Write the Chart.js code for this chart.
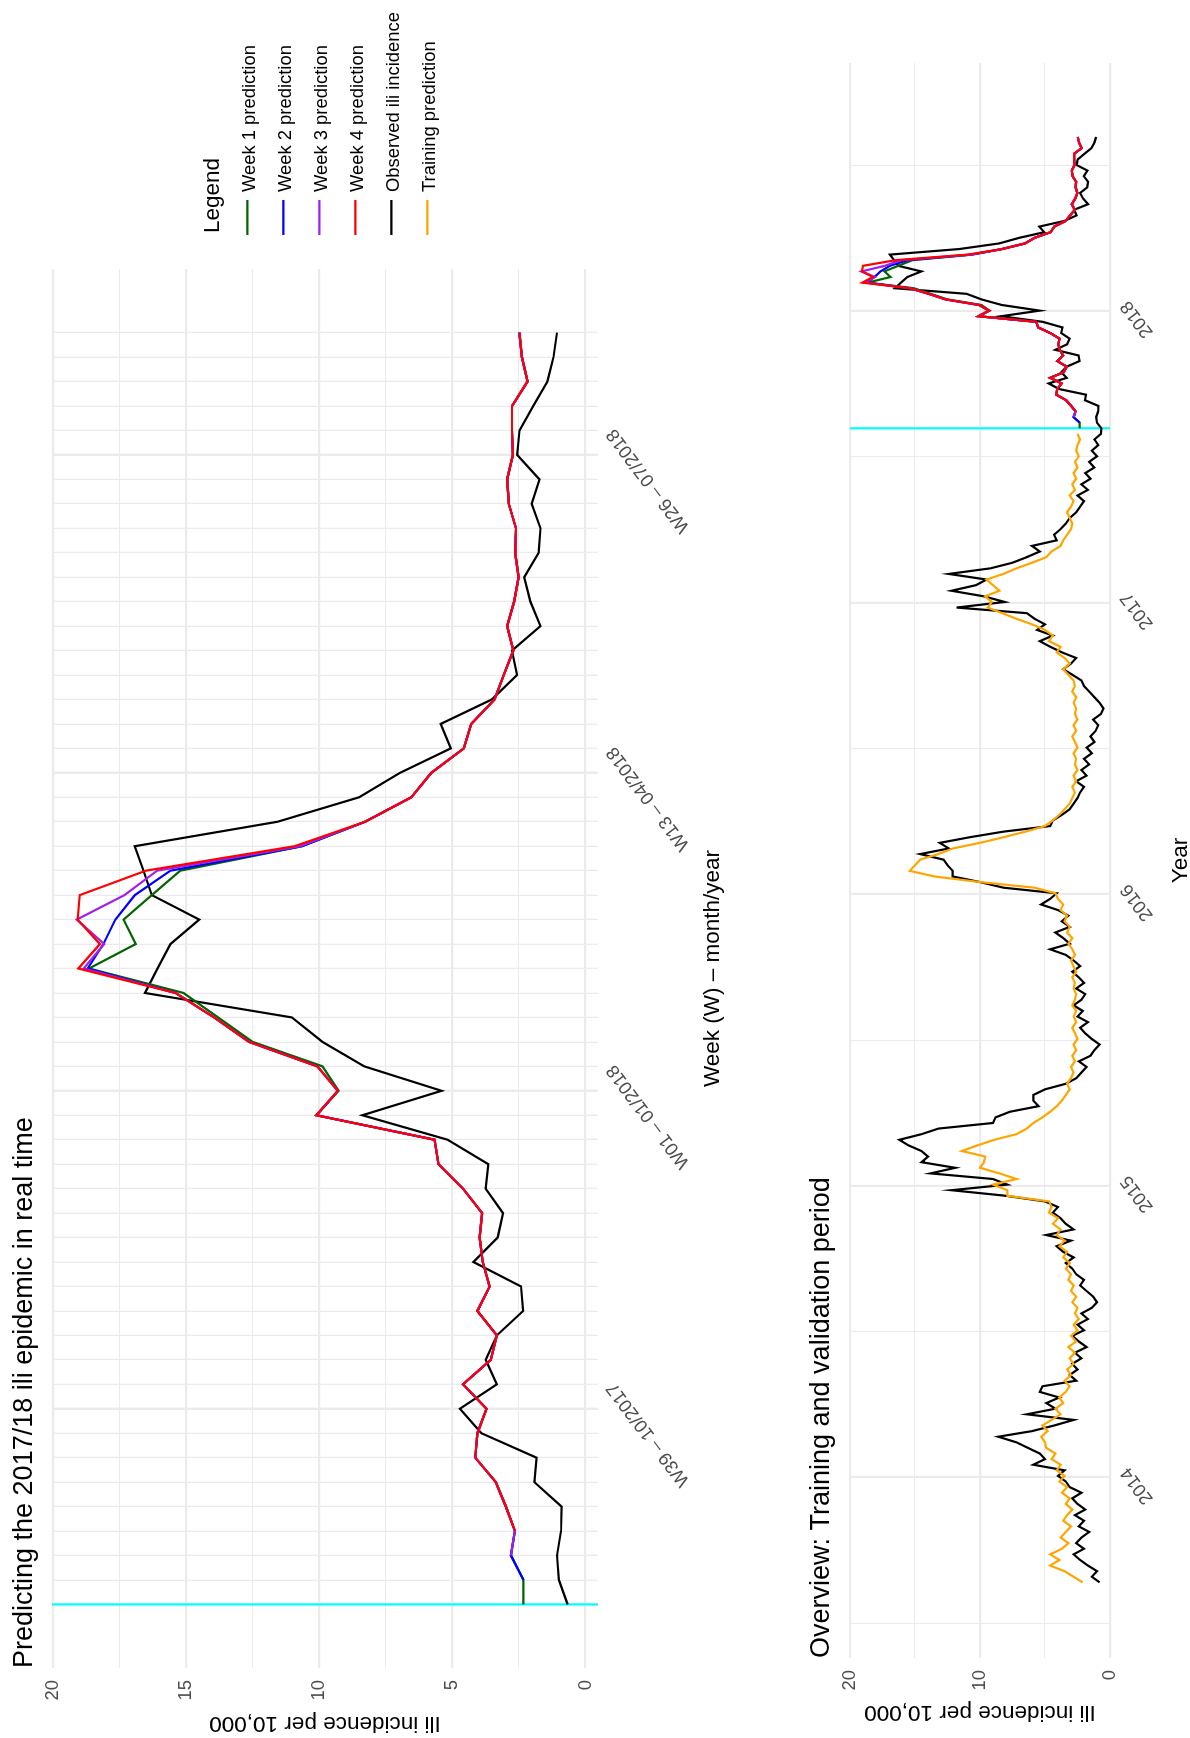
<!DOCTYPE html>
<html>
<head>
<meta charset="utf-8">
<script src="https://cdn.jsdelivr.net/npm/chart.js@4.4.1/dist/chart.umd.min.js"></script>
<style>
  html, body { margin: 0; padding: 0; background: #fff; overflow: hidden; width: 1190px; height: 1738px; }
  /* the figure is laid out landscape (1738 x 1190) and turned a quarter left */
  #page { position: absolute; left: 0; top: 0; width: 1738px; height: 1190px; background: #fff;
          transform-origin: 0 0; transform: translateY(1738px) rotate(-90deg); }
  canvas { position: absolute; left: 0; }
</style>
</head>
<body>
<div id="page">
  <canvas id="chartSeason" width="1738" height="740" style="top:0;width:1738px;height:740px"></canvas>
  <canvas id="chartOverview" width="1738" height="450" style="top:740px;width:1738px;height:450px"></canvas>
</div>
<script>
// ---- 2017/18 season, weekly (index 0 = W31/2017 ... 52 = W31/2018)
const observed1718 = [0.67, 1.0, 1.07, 0.92, 0.90, 1.92, 1.84, 3.91, 4.72, 3.33, 3.75, 3.33, 2.34, 2.42, 4.21,
  3.30, 3.10, 3.75, 3.65, 5.18, 8.38, 5.41, 8.31, 9.88, 11.03, 16.55, 16.08, 15.59, 14.51, 16.29, 16.6,
  16.93, 11.57, 8.51, 6.97, 5.06, 5.44, 3.52, 2.57, 2.76, 1.69, 2.07, 2.30, 1.76, 1.69, 2.02, 1.73,
  2.57, 2.48, 1.96, 1.43, 1.20, 1.07];
const week1Pred = [2.33, 2.33, 2.80, 2.65, 2.99, 3.37, 4.14, 4.06, 3.72, 4.60, 3.56, 3.33, 4.06, 3.60, 3.86,
  3.98, 3.88, 4.60, 5.52, 5.67, 10.11, 9.27, 9.88, 12.5, 13.8, 15.1, 18.65, 16.89, 17.35, 16.29, 15.22,
  10.65, 8.28, 6.54, 5.79, 4.57, 4.29, 3.42, 3.07, 2.71, 2.94, 2.68, 2.51, 2.64, 2.61, 2.88, 2.94,
  2.73, 2.76, 2.76, 2.18, 2.39, 2.48];
const week2Pred = [null, 2.33, 2.80, 2.65, 2.99, 3.37, 4.14, 4.06, 3.72, 4.60, 3.56, 3.33, 4.06, 3.60, 3.86,
  3.98, 3.88, 4.60, 5.52, 5.67, 10.11, 9.30, 10.07, 12.64, 13.95, 15.4, 18.70, 18.11, 17.66, 16.93, 15.59,
  10.65, 8.28, 6.54, 5.79, 4.57, 4.29, 3.42, 3.07, 2.71, 2.94, 2.68, 2.51, 2.64, 2.61, 2.88, 2.94,
  2.73, 2.76, 2.76, 2.18, 2.39, 2.48];
const week3Pred = [null, null, 2.80, 2.65, 2.99, 3.37, 4.14, 4.06, 3.72, 4.60, 3.56, 3.33, 4.06, 3.60, 3.86,
  3.98, 3.88, 4.60, 5.52, 5.67, 10.11, 9.30, 10.07, 12.64, 13.95, 15.4, 18.85, 18.08, 19.11, 17.32, 16.09,
  10.73, 8.28, 6.54, 5.79, 4.57, 4.29, 3.42, 3.07, 2.71, 2.94, 2.68, 2.51, 2.64, 2.61, 2.88, 2.94,
  2.73, 2.76, 2.76, 2.18, 2.39, 2.48];
const week4Pred = [null, null, null, 2.65, 2.99, 3.37, 4.14, 4.06, 3.72, 4.60, 3.56, 3.33, 4.06, 3.60, 3.86,
  3.98, 3.88, 4.60, 5.52, 5.67, 10.11, 9.30, 10.07, 12.64, 13.95, 15.4, 19.05, 18.24, 19.08, 19.0, 16.51,
  10.93, 8.28, 6.54, 5.79, 4.57, 4.29, 3.42, 3.07, 2.71, 2.94, 2.68, 2.51, 2.64, 2.61, 2.88, 2.94,
  2.73, 2.76, 2.76, 2.18, 2.39, 2.48];
const seasonTickWeeks = [8, 21, 34, 47];
const seasonTickLabels = ['W39 – 10/2017', 'W01 – 01/2018', 'W13 – 04/2018', 'W26 – 07/2018'];

// ---- training period, weekly (index 0 = Aug 2013 ... 205 = Jul 2017)
const observedTrain = [
  0.8, 1.4, 1.0, 1.7, 2.3, 2.8, 2.0, 2.6, 2.2, 1.6, 2.4, 2.0, 2.7, 1.9, 2.5, 2.9, 2.2, 3.1, 3.4,
  4.0, 3.5, 5.9, 5.0, 5.4, 6.3, 7.2, 8.6, 6.0, 4.3, 2.8, 6.4, 4.2, 4.9, 3.9, 5.4, 5.2, 2.6, 3.1,
  2.5, 2.9, 2.2, 2.7, 1.8, 2.4, 2.9, 2.0, 2.5, 1.7, 2.2, 1.4, 1.0, 1.3, 1.8, 2.3, 2.0, 2.6,
  2.9, 3.4, 2.8, 3.6, 4.1, 3.0, 4.9, 2.8, 3.4, 3.8, 4.4,
  4.0, 5.0, 8.0, 12.2, 7.9, 9.0, 13.8, 11.9, 14.5, 14.0, 14.5, 15.5, 16.2, 14.5, 13.2, 9.0, 8.8, 7.7, 5.5, 5.9, 5.9, 5.0, 3.4, 2.6,
  2.2, 1.8, 2.4, 1.5, 1.2, 0.8, 1.4, 1.9, 2.3, 1.7, 2.5, 2.1, 2.8, 2.2, 1.9, 2.6, 2.0, 2.4, 2.9, 2.3, 2.8, 3.4, 4.6, 3.1, 3.6, 4.2, 3.1, 3.7, 3.2, 4.0, 5.3, 4.6,
  4.1, 8.2, 10.0, 12.1, 12.1, 12.5, 12.8, 14.6, 12.4, 13.1, 10.8, 8.2, 4.6, 4.4, 3.7, 3.1, 2.8, 2.5,
  2.3, 2.0, 2.6, 1.8, 2.2, 1.6, 2.0, 1.4, 1.8, 1.2, 1.5, 1.1, 0.9, 1.3, 0.7, 0.5, 0.8, 1.2, 1.6, 2.0,
  2.2, 2.9, 3.6, 3.0, 2.6, 3.7, 4.6, 5.4, 4.4, 5.6, 5.0, 5.8, 6.4, 11.8, 8.1, 9.7, 12.2, 10.3, 9.5, 12.4, 9.2, 7.5, 6.4, 5.4, 6.0,
  4.1, 4.3, 3.8, 3.4, 3.1, 2.6, 2.3, 2.0, 2.5, 1.7, 2.2, 1.5, 1.9, 1.2, 1.6, 1.0, 1.4, 0.9, 1.2, 0.7];
const trainingPred = [
  2.1, 2.8, 3.5, 4.6, 3.9, 4.6, 3.7, 3.2, 3.8, 3.4, 3.0, 3.6, 3.3, 2.9, 3.4, 3.1, 3.7, 3.3, 3.9,
  3.5, 4.1, 3.8, 4.5, 4.2, 4.9, 5.0, 5.3, 4.8, 5.2, 4.5, 3.8, 4.2, 3.6, 3.9, 3.4, 3.1, 3.5, 3.0,
  3.3, 2.8, 3.1, 2.7, 3.2, 2.6, 3.0, 2.5, 2.8, 2.4, 2.7, 2.5, 2.9, 2.6, 3.0, 2.8, 3.2, 3.0,
  3.4, 3.1, 3.6, 3.3, 3.9, 3.5, 4.1, 3.8, 4.4, 4.0, 4.7, 4.5, 4.7, 7.9,
  7.9, 9.0, 7.2, 8.5, 10.0, 9.7, 9.6, 11.4, 10.2, 8.9, 7.2, 6.4, 5.9, 5.2, 4.6, 4.1, 3.7, 3.4, 3.1, 3.3, 3.0,
  2.8, 3.0, 2.7, 2.9, 2.6, 2.8, 2.5, 2.7, 2.9, 2.6, 2.8, 2.6, 2.9, 2.7, 2.6, 2.8, 2.7, 2.9, 2.6, 2.8, 3.0, 2.7, 2.9, 3.2, 2.9, 3.3, 3.1, 3.5, 3.3, 3.8, 3.6, 4.0,
  4.2, 5.8, 10.0, 13.5, 15.4, 15.0, 14.6, 13.2, 12.1, 10.0, 8.2, 6.5, 5.0, 4.4, 3.9, 3.5, 3.1, 2.9,
  2.7, 2.9, 2.6, 2.8, 2.5, 2.7, 2.6, 2.8, 2.5, 2.7, 2.9, 2.6, 2.8, 2.5, 2.7, 2.6, 2.8, 2.6, 2.9, 2.7,
  2.8, 3.2, 3.6, 3.1, 3.5, 4.1, 3.8, 4.7, 4.4, 5.0, 6.0, 7.2, 8.3, 9.4, 9.1, 9.6, 8.5, 9.0, 9.5, 8.2, 7.2, 6.0, 4.9, 4.5, 3.8,
  3.6, 3.3, 3.0, 2.9, 3.1, 3.3, 3.0, 2.8, 3.1, 2.7, 2.9, 2.6, 2.8, 2.5, 2.7, 2.4, 2.6, 2.5, 2.3, 2.5];
const yearTickWeeks = [18.75, 70.8, 122.85, 174.9, 226.95];
const yearTickLabels = ['2014', '2015', '2016', '2017', '2018'];
const halfYearWeeks = [-7.3, 44.8, 96.8, 148.9, 200.9, 253.0];

const legendLabels = ['Week 1 prediction', 'Week 2 prediction', 'Week 3 prediction', 'Week 4 prediction',
  'Observed ili incidence', 'Training prediction'];
const legendColors = ['#006400', '#0000FF', '#A020F0', '#FF0000', '#000000', '#FFA500'];

const FONT = '"Liberation Sans", Arial, Helvetica, sans-serif';
const GRID = '#EBEBEB';
const TICK = '#4D4D4D';

const pts = (arr, start) => arr.map((v, i) => ({ x: i + start, y: v }));
const line = (label, color, data) => ({ label, data, borderColor: color, borderWidth: 2.2,
  pointRadius: 0, tension: 0, fill: false, spanGaps: false });

// titles, axis titles, cyan start line and the legend
const decor = (o) => ({
  id: 'decor',
  beforeDatasetsDraw(chart) {
    const { ctx, chartArea: a, scales } = chart;
    const x = scales.x.getPixelForValue(o.vline);
    ctx.save();
    ctx.strokeStyle = '#00FFFF'; ctx.lineWidth = 2.2;
    ctx.beginPath(); ctx.moveTo(x, a.top); ctx.lineTo(x, a.bottom); ctx.stroke();
    ctx.restore();
  },
  afterDraw(chart) {
    const { ctx, chartArea: a } = chart;
    ctx.save();
    ctx.fillStyle = '#000'; ctx.textBaseline = 'alphabetic';
    ctx.font = '27px ' + FONT; ctx.textAlign = 'left';
    ctx.fillText(o.title, a.left, o.titleBase);
    ctx.font = '22.5px ' + FONT; ctx.textAlign = 'center';
    ctx.fillText(o.xTitle, (a.left + a.right) / 2, o.xTitleBase);
    ctx.translate(o.yTitleBase, (a.top + a.bottom) / 2); ctx.rotate(-Math.PI / 2);
    ctx.fillText(o.yTitle, 0, 0);
    ctx.restore();
    if (!o.legend) return;
    ctx.save();
    ctx.fillStyle = '#000'; ctx.textAlign = 'left'; ctx.textBaseline = 'alphabetic';
    ctx.font = '22.5px ' + FONT;
    ctx.fillText('Legend', 1505, 219);
    ctx.font = '18.4px ' + FONT;
    legendLabels.forEach((lab, i) => {
      const y = 247.3 + 36 * i;
      ctx.strokeStyle = legendColors[i]; ctx.lineWidth = 2.2;
      ctx.beginPath(); ctx.moveTo(1503, y); ctx.lineTo(1538, y); ctx.stroke();
      ctx.fillText(lab, 1546, y + 7.7);
    });
    ctx.restore();
  }
});

// ---- top: the 2017/18 season
const weekTicks = observed1718.map((_, i) => i);
new Chart(document.getElementById('chartSeason'), {
  type: 'line',
  data: { datasets: [
    line('Week 4 prediction', legendColors[3], pts(week4Pred, 0)),
    line('Week 3 prediction', legendColors[2], pts(week3Pred, 0)),
    line('Week 2 prediction', legendColors[1], pts(week2Pred, 0)),
    line('Week 1 prediction', legendColors[0], pts(week1Pred, 0)),
    line('Observed ili incidence', legendColors[4], pts(observed1718, 0)),
  ] },
  options: {
    responsive: false, animation: false, events: [],
    layout: { padding: { left: 0, right: 269, top: 52, bottom: 0 } },
    plugins: { legend: { display: false }, tooltip: { enabled: false } },
    scales: {
      x: {
        type: 'linear', min: -2.6, max: 54.6,
        afterBuildTicks: s => { s.ticks = weekTicks.map(v => ({ value: v })); },
        afterFit: s => { s.height = 142; },
        border: { display: false },
        grid: { color: GRID, drawTicks: false,
          lineWidth: c => (c.tick && seasonTickWeeks.includes(c.tick.value)) ? 2.4 : 1.3 },
        ticks: { autoSkip: false, minRotation: 37, maxRotation: 37, padding: 4, labelOffset: 24,
          color: TICK, font: { family: FONT, size: 18.4 },
          callback: v => { const i = seasonTickWeeks.indexOf(v); return i >= 0 ? seasonTickLabels[i] : ''; } }
      },
      y: {
        min: -0.47, max: 20.04,
        afterBuildTicks: s => { s.ticks = [0, 2.5, 5, 7.5, 10, 12.5, 15, 17.5, 20].map(v => ({ value: v })); },
        afterFit: s => { s.width = 70; },
        border: { display: false },
        grid: { color: GRID, drawTicks: false, lineWidth: c => (c.tick && c.tick.value % 5 === 0) ? 2.2 : 1.1 },
        ticks: { padding: 12, color: TICK, font: { family: FONT, size: 18.4 },
          callback: v => v % 5 === 0 ? String(v) : '' }
      }
    }
  },
  plugins: [decor({ title: 'Predicting the 2017/18 ili epidemic in real time', titleBase: 32,
    xTitle: 'Week (W) – month/year', xTitleBase: 719,
    yTitle: 'Ili incidence per 10,000', yTitleBase: 21, vline: 0, legend: true })]
});

// ---- bottom: training and validation overview
const valStart = observedTrain.length;
const overviewTicks = halfYearWeeks.concat(yearTickWeeks).sort((a, b) => a - b);
new Chart(document.getElementById('chartOverview'), {
  type: 'line',
  data: { datasets: [
    line('Week 4 prediction', legendColors[3], pts(week4Pred, valStart)),
    line('Week 3 prediction', legendColors[2], pts(week3Pred, valStart)),
    line('Week 2 prediction', legendColors[1], pts(week2Pred, valStart)),
    line('Week 1 prediction', legendColors[0], pts(week1Pred, valStart)),
    line('Training prediction', legendColors[5], pts(trainingPred, 0)),
    line('Observed ili incidence', legendColors[4], pts(observedTrain.concat(observed1718), 0)),
  ] },
  options: {
    responsive: false, animation: false, events: [],
    layout: { padding: { left: 0, right: 63, top: 110, bottom: 0 } },
    plugins: { legend: { display: false }, tooltip: { enabled: false } },
    scales: {
      x: {
        type: 'linear', min: -13.5, max: 271.2,
        afterBuildTicks: s => { s.ticks = overviewTicks.map(v => ({ value: v })); },
        afterFit: s => { s.height = 80; },
        border: { display: false },
        grid: { color: GRID, drawTicks: false,
          lineWidth: c => (c.tick && yearTickWeeks.includes(c.tick.value)) ? 2.2 : 1.1 },
        ticks: { autoSkip: false, minRotation: 37, maxRotation: 37, padding: 6, labelOffset: 8,
          color: TICK, font: { family: FONT, size: 18.4 },
          callback: v => { const i = yearTickWeeks.indexOf(v); return i >= 0 ? yearTickLabels[i] : ''; } }
      },
      y: {
        min: 0, max: 20,
        afterBuildTicks: s => { s.ticks = [0, 5, 10, 15, 20].map(v => ({ value: v })); },
        afterFit: s => { s.width = 80; },
        border: { display: false },
        grid: { color: GRID, drawTicks: false, lineWidth: c => (c.tick && c.tick.value % 10 === 0) ? 2.2 : 1.1 },
        ticks: { padding: 12, color: TICK, font: { family: FONT, size: 18.4 },
          callback: v => v % 10 === 0 ? String(v) : '' }
      }
    }
  },
  plugins: [decor({ title: 'Overview: Training and validation period', titleBase: 89,
    xTitle: 'Year', xTitleBase: 447,
    yTitle: 'Ili incidence per 10,000', yTitleBase: 32, vline: valStart, legend: false })]
});
</script>
</body>
</html>
